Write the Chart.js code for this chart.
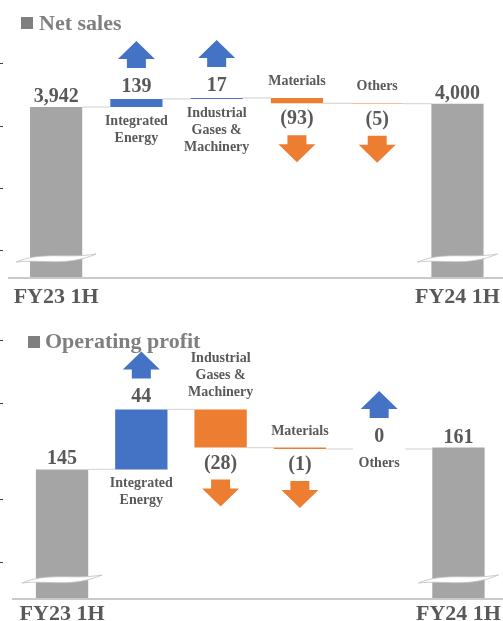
<!DOCTYPE html>
<html><head><meta charset="utf-8">
<script src="https://cdn.jsdelivr.net/npm/chart.js@4/dist/chart.umd.min.js"></script>
<style>
html,body{margin:0;padding:0;background:#fff;overflow:hidden}
#wrap{position:relative;width:503px;height:621px}
.box{position:absolute;left:0;width:503px}
#b1{top:0;height:310px}
#b2{top:310px;height:311px}
</style></head><body>
<div id="wrap"><div class="box" id="b1"><canvas id="c1"></canvas></div><div class="box" id="b2"><canvas id="c2"></canvas></div></div>
<script>
// ---- data ----
const categories = ['FY23 1H', ['Integrated', 'Energy'], ['Industrial', 'Gases &', 'Machinery'], 'Materials', 'Others', 'FY24 1H'];

const netSalesStart = 3942;
const netSalesChanges = [139, 17, -93, -5];
const netSalesEnd = 4000;
const netSalesTickMarks = [1480, 2550, 3610, 4700];

const opStart = 145;
const opChanges = [44, -28, -1, 0];
const opEnd = 161;
const opTickMarks = [77, 123, 194, 240];

// ---- helpers ----
const GRAY = '#A5A5A5', BLUE = '#4472C4', ORANGE = '#ED7D31', TXT = '#595959', TITLE = '#7F7F7F';
const SERIF = '"Liberation Serif", "Times New Roman", serif';

function buildWaterfall(start, changes, end) {
  const data = [start];
  const levels = [start];
  let level = start;
  changes.forEach(c => { data.push([level, level + c]); level += c; levels.push(level); });
  data.push(end); levels.push(end);
  const colors = data.map((d, i) => (i === 0 || i === data.length - 1) ? GRAY : (changes[i - 1] >= 0 ? BLUE : ORANGE));
  const texts = data.map((d, i) => {
    if (i === 0 || i === data.length - 1) return d.toLocaleString('en-US');
    const c = changes[i - 1];
    return c < 0 ? '(' + Math.abs(c) + ')' : String(c);
  });
  const signs = data.map((d, i) => (i === 0 || i === data.length - 1) ? 0 : (changes[i - 1] >= 0 ? 1 : -1));
  return { data, levels, colors, texts, signs };
}

function drawArrow(ctx, cx, top, up, color) {
  const W = 37, H = 27, head = 18, sw = 19;
  ctx.fillStyle = color;
  ctx.beginPath();
  if (up) {
    ctx.moveTo(cx, top);
    ctx.lineTo(cx + W / 2, top + head);
    ctx.lineTo(cx + sw / 2, top + head);
    ctx.lineTo(cx + sw / 2, top + H);
    ctx.lineTo(cx - sw / 2, top + H);
    ctx.lineTo(cx - sw / 2, top + head);
    ctx.lineTo(cx - W / 2, top + head);
  } else {
    ctx.moveTo(cx - sw / 2, top);
    ctx.lineTo(cx + sw / 2, top);
    ctx.lineTo(cx + sw / 2, top + H - head);
    ctx.lineTo(cx + W / 2, top + H - head);
    ctx.lineTo(cx, top + H);
    ctx.lineTo(cx - W / 2, top + H - head);
    ctx.lineTo(cx - sw / 2, top + H - head);
  }
  ctx.closePath();
  ctx.fill();
}

function drawBreak(ctx, cx, y) {
  const L = cx - 40, R = cx + 40;
  ctx.beginPath();
  ctx.moveTo(L, y + 4);
  ctx.bezierCurveTo(L + 26, y - 7, L + 50, y + 1, R, y - 4);
  ctx.bezierCurveTo(L + 50, y + 9, L + 26, y + 1, L, y + 4);
  ctx.closePath();
  ctx.fillStyle = '#FFFFFF';
  ctx.fill();
  ctx.strokeStyle = '#BFBFBF';
  ctx.lineWidth = 0.8;
  ctx.stroke();
}

const decor = {
  id: 'decor',
  beforeDatasetsDraw(chart, args, o) {
    const ctx = chart.ctx, meta = chart.getDatasetMeta(0), ys = chart.scales.y;
    ctx.save();
    ctx.strokeStyle = '#D9D9D9';
    ctx.lineWidth = 1.25;
    for (let i = 0; i < meta.data.length - 1; i++) {
      const a = meta.data[i], b = meta.data[i + 1];
      const py = ys.getPixelForValue(o.levels[i]);
      ctx.beginPath();
      ctx.moveTo(a.x + a.width / 2, py);
      ctx.lineTo(b.x - b.width / 2, py);
      ctx.stroke();
    }
    ctx.restore();
  },
  afterDatasetsDraw(chart, args, o) {
    const ctx = chart.ctx, meta = chart.getDatasetMeta(0), ys = chart.scales.y, area = chart.chartArea;
    const n = meta.data.length;
    ctx.save();
    // baseline
    ctx.strokeStyle = '#C9C9C9';
    ctx.lineWidth = 2;
    ctx.beginPath();
    ctx.moveTo(o.baseFrom, area.bottom);
    ctx.lineTo(chart.width, area.bottom);
    ctx.stroke();
    // breaks on total bars
    [0, n - 1].forEach(i => drawBreak(ctx, meta.data[i].x, area.bottom - 20));
    // y tick marks
    ctx.fillStyle = '#404040';
    o.tickMarks.forEach(v => { ctx.fillRect(0, Math.round(ys.getPixelForValue(v)), 3, 1); });
    // title
    ctx.fillStyle = TITLE;
    ctx.fillRect(o.titleSq[0], o.titleSq[1], 12, 12);
    ctx.font = 'bold 22px ' + SERIF;
    ctx.textAlign = 'left';
    ctx.textBaseline = 'alphabetic';
    ctx.fillText(o.title, o.titleX, o.titleY);
    // labels & arrows
    ctx.textAlign = 'center';
    for (let i = 0; i < n; i++) {
      const el = meta.data[i];
      const top = Math.min(el.y, el.base), bottom = Math.max(el.y, el.base);
      const s = o.signs[i];
      ctx.fillStyle = TXT;
      ctx.font = 'bold 20px ' + SERIF;
      if (s === 0) {
        ctx.fillText(o.texts[i], el.x, top - 5);
        continue;
      }
      const cat = chart.data.labels[i];
      const lines = Array.isArray(cat) ? cat : [cat];
      if (s > 0) {
        const vb = top - 7;
        ctx.fillText(o.texts[i], el.x, vb);
        drawArrow(ctx, el.x, vb - 24 - 27, true, BLUE);
        ctx.fillStyle = TXT;
        ctx.font = 'bold 14px ' + SERIF;
        lines.forEach((t, k) => ctx.fillText(t, el.x, bottom + 18 + k * 17));
      } else {
        const vb = bottom + 21;
        ctx.fillText(o.texts[i], el.x, vb);
        drawArrow(ctx, el.x, vb + 11, false, ORANGE);
        ctx.fillStyle = TXT;
        ctx.font = 'bold 14px ' + SERIF;
        lines.forEach((t, k) => ctx.fillText(t, el.x, top - 13 - (lines.length - 1 - k) * 17));
      }
    }
    ctx.restore();
  }
};

function makeChart(id, start, changes, end, s) {
  const w = buildWaterfall(start, changes, end);
  return new Chart(document.getElementById(id), {
    type: 'bar',
    data: {
      labels: categories,
      datasets: [{
        data: w.data,
        backgroundColor: w.colors,
        borderWidth: 0,
        barPercentage: 1,
        categoryPercentage: s.catPct
      }]
    },
    plugins: [decor],
    options: {
      responsive: true,
      maintainAspectRatio: false,
      animation: false,
      devicePixelRatio: 1,
      layout: { padding: { top: s.padTop, left: s.padLeft, right: s.padRight, bottom: 0 } },
      plugins: {
        legend: { display: false },
        title: { display: false },
        tooltip: { enabled: false },
        decor: {
          levels: w.levels, texts: w.texts, signs: w.signs,
          tickMarks: s.tickMarks, baseFrom: s.baseFrom,
          title: s.title, titleX: s.titleX, titleY: s.titleY, titleSq: s.titleSq
        }
      },
      scales: {
        x: {
          grid: { display: false },
          border: { display: false },
          ticks: {
            autoSkip: false, maxRotation: 0, minRotation: 0,
            padding: s.tickPad,
            color: TXT,
            font: { family: SERIF, size: 22, weight: 'bold' },
            callback: function (v, i) { return (i === 0 || i === categories.length - 1) ? this.getLabelForValue(v) : ''; }
          },
          afterFit: function (scale) { scale.height = s.axisH; scale.paddingLeft = 0; scale.paddingRight = 0; }
        },
        y: {
          display: false,
          min: s.min, max: s.max
        }
      }
    }
  });
}

makeChart('c1', netSalesStart, netSalesChanges, netSalesEnd, {
  min: 1000, max: 5000, padTop: 45.5, padLeft: 16, padRight: 5.4, catPct: 0.65,
  tickPad: -2, axisH: 32, tickMarks: netSalesTickMarks, baseFrom: 8,
  title: 'Net sales', titleX: 39, titleY: 30, titleSq: [21, 17]
});
makeChart('c2', opStart, opChanges, opEnd, {
  min: 50, max: 250, padTop: 16.2, padLeft: 22.4, padRight: 4.9, catPct: 0.66,
  tickPad: -5.5, axisH: 22, tickMarks: opTickMarks, baseFrom: 12,
  title: 'Operating profit', titleX: 45, titleY: 38, titleSq: [28, 26]
});
</script>
</body></html>
